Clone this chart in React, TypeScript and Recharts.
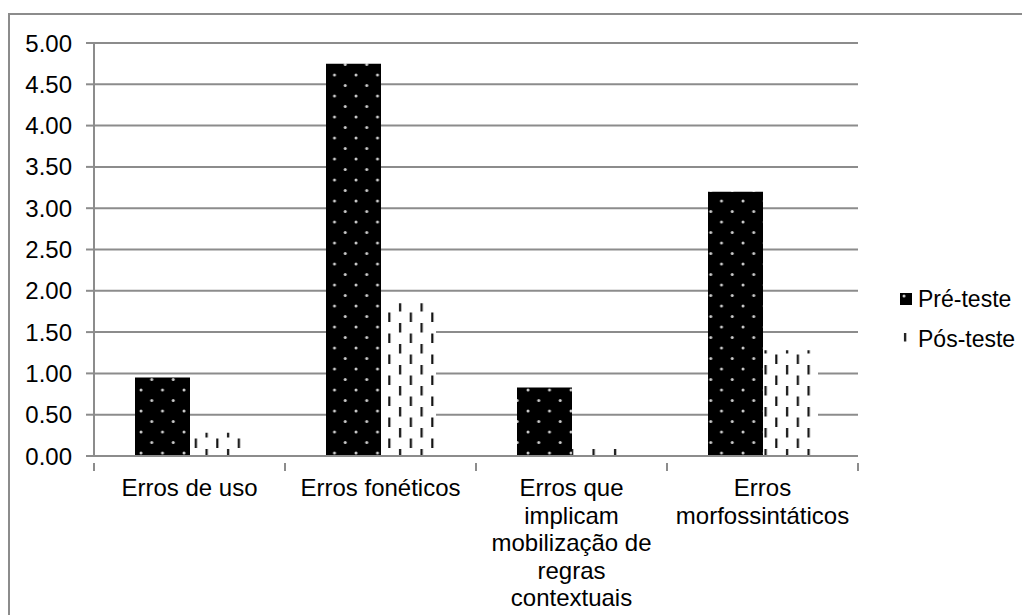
import React from 'react';
import { BarChart, Bar, XAxis, YAxis, CartesianGrid } from 'recharts';

// categories and values
const categories = [
  'Erros de uso',
  'Erros fonéticos',
  'Erros que implicam mobilização de regras contextuais',
  'Erros morfossintáticos',
];
const categoryLines = [
  ['Erros de uso'],
  ['Erros fonéticos'],
  ['Erros que', 'implicam', 'mobilização de', 'regras', 'contextuais'],
  ['Erros', 'morfossintáticos'],
];
const preTeste = [0.95, 4.75, 0.83, 3.2];
const posTeste = [0.28, 1.85, 0.09, 1.28];
const yTicks = [0, 0.5, 1, 1.5, 2, 2.5, 3, 3.5, 4, 4.5, 5];
const seriesNames = ['Pré-teste', 'Pós-teste'];

const data = categories.map((name, i) => ({ name, pre: preTeste[i], pos: posTeste[i] }));

const FONT = '"Liberation Sans", Arial, sans-serif';
const GREY = '#8c8c8c';

// label plus Excel-style tick marks on the band edges
function CategoryTick(props: any) {
  const { x, y, payload } = props;
  const lines = categoryLines[payload.index] || [payload.value];
  const half = payload.offset || 0;
  const isLast = payload.index === categories.length - 1;
  return (
    <g>
      <line x1={x - half} x2={x - half} y1={y - 1} y2={y + 7} stroke={GREY} strokeWidth={2} />
      {isLast && <line x1={x + half} x2={x + half} y1={y - 1} y2={y + 7} stroke={GREY} strokeWidth={2} />}
      <text x={x} y={y} textAnchor="middle" fontFamily={FONT} fontSize={24} fill="#000">
        {lines.map((l: string, i: number) => (
          <tspan key={i} x={x} dy={i === 0 ? 32 : 27.5}>{l}</tspan>
        ))}
      </text>
    </g>
  );
}

function LegendBox() {
  const fills = ['url(#prePattern)', 'url(#posPattern)'];
  return (
    <div style={{ position: 'absolute', left: 892, top: 271, fontFamily: FONT, fontSize: 23, color: '#000' }}>
      {seriesNames.map((n, i) => (
        <div key={n} style={{ display: 'flex', alignItems: 'center', height: 40 }}>
          <svg width={14} height={14} style={{ marginRight: 4 }}>
            <rect x={0} y={1} width={12} height={12} fill={fills[i]} />
          </svg>
          <span>{n}</span>
        </div>
      ))}
    </div>
  );
}

export default function App() {
  return (
    <div style={{ position: 'relative', width: 1022, height: 607, overflow: 'hidden', background: '#fff' }}>
      <svg width={0} height={0} style={{ position: 'absolute' }}>
        <defs>
          <pattern id="prePattern" patternUnits="userSpaceOnUse" width={21.5} height={21}>
            <rect width={21.5} height={21} fill="#000" />
            <circle cx={4} cy={4} r={1.5} fill="#ccc" />
            <circle cx={14.75} cy={14.5} r={1.5} fill="#ccc" />
          </pattern>
          <pattern id="posPattern" patternUnits="userSpaceOnUse" width={21.5} height={21}>
            <rect width={21.5} height={21} fill="#fff" />
            <rect x={4} y={0} width={2.2} height={9.5} fill="#111" />
            <rect x={14.75} y={10.5} width={2.2} height={9.5} fill="#111" />
          </pattern>
        </defs>
      </svg>
      <div style={{ position: 'absolute', left: 0, top: 5, width: 1030, height: 620, border: `2px solid ${GREY}`, boxSizing: 'border-box' }} />
      <div style={{ position: 'absolute', left: 0, top: 0 }}>
        <BarChart
          width={1022}
          height={607}
          data={data}
          margin={{ top: 35, right: 172, bottom: 0, left: 0 }}
          barGap={0}
          barSize={55}
        >
          <CartesianGrid vertical={false} stroke={GREY} strokeWidth={2} />
          <XAxis
            dataKey="name"
            height={159}
            interval={0}
            tick={<CategoryTick />}
            tickLine={false}
            axisLine={{ stroke: GREY, strokeWidth: 2 }}
          />
          <YAxis
            width={86}
            domain={[0, 5]}
            ticks={yTicks}
            tickFormatter={(v: number) => v.toFixed(2)}
            tick={{ fontFamily: FONT, fontSize: 24, fill: '#000' }}
            tickLine={{ stroke: GREY, strokeWidth: 2 }}
            tickSize={8}
            tickMargin={14}
            axisLine={{ stroke: GREY, strokeWidth: 2 }}
          />
          <Bar dataKey="pre" name={seriesNames[0]} fill="url(#prePattern)" isAnimationActive={false} />
          <Bar dataKey="pos" name={seriesNames[1]} fill="url(#posPattern)" isAnimationActive={false} />
        </BarChart>
      </div>
      <LegendBox />
    </div>
  );
}
